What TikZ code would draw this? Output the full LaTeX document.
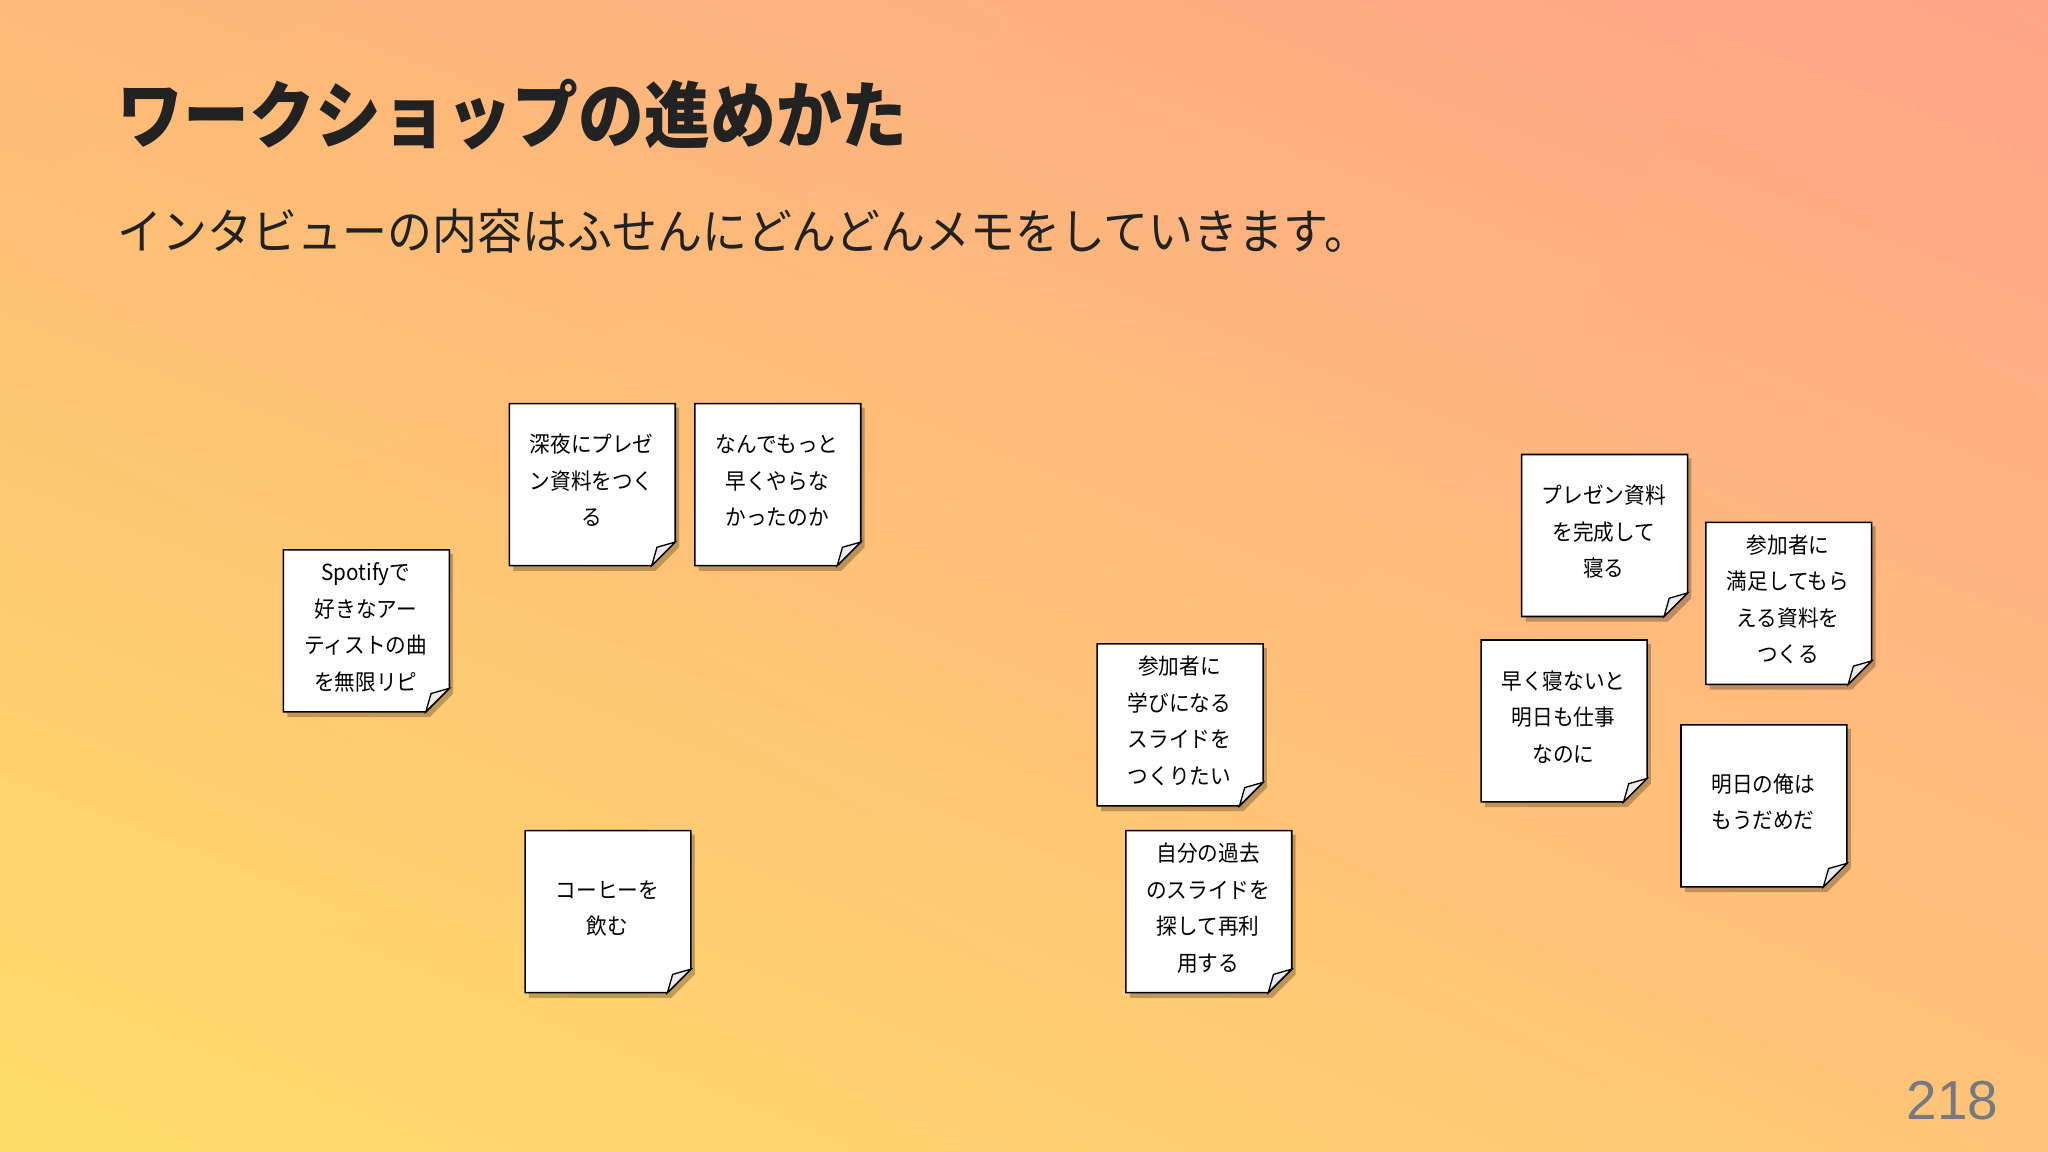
\documentclass[tikz,border=0pt]{standalone}
\usepackage{fontspec}
\usetikzlibrary{shadings}
\setmainfont{Noto Sans CJK JP}
\newfontfamily\boldjp{Noto Sans CJK JP Black}
\newfontfamily\numfont{Liberation Sans}
\definecolor{bgul}{RGB}{252,186,120}
\definecolor{bgur}{RGB}{255,164,136}
\definecolor{bgll}{RGB}{255,221,104}
\definecolor{bglr}{RGB}{255,196,120}
\definecolor{ink}{RGB}{34,34,34}
\definecolor{pggray}{RGB}{120,120,128}
\definecolor{foldgray}{RGB}{235,235,235}
\begin{document}
\begin{tikzpicture}[x=1pt,y=-1pt,
  notetext/.style={align=center,font=\fontsize{17}{28}\selectfont,text=black,inner sep=0pt}]
\useasboundingbox (0,0) rectangle (1568,882);
\shade[upper left=bgul,upper right=bgur,lower left=bgll,lower right=bglr] (0,0) rectangle (1568,882);
\node[anchor=west,inner sep=0pt,font=\boldjp\fontsize{56}{60}\selectfont,text=ink] (title) at (90,88) {\scalebox{0.9}[1]{ワークショップの進めかた}};
\node[anchor=west,inner sep=0pt,font=\fontsize{37}{40}\selectfont,text=ink] (sub) at (90,177) {\scalebox{0.93}[1]{インタビューの内容はふせんにどんどんメモをしていきます。}};
\node[anchor=east,inner sep=0pt,font=\numfont\fontsize{42}{44}\selectfont,text=pggray] (pg) at (1530,843) {218};
\newcommand{\stick}[4]{%
  \begin{scope}[shift={(#1,#2)}]
  \fill[black,opacity=0.25] (3,3) -- (130,3) -- (130,110) -- (112,128) -- (3,128) -- cycle;
  \filldraw[fill=white,draw=black,line width=1.2pt] (0,0) -- (127,0) -- (127,106) -- (109,124) -- (0,124) -- cycle;
  \filldraw[fill=foldgray,draw=black,line width=1pt] (127,106) -- (113,110) -- (109,124) -- cycle;
  \node[notetext] (#3) at (63,60) {\scalebox{0.93}[1]{\begin{tabular}{@{}c@{}}#4\end{tabular}}};
  \end{scope}}
\stick{390}{309}{n1}{深夜にプレゼ\\ン資料をつく\\る}
\stick{532}{309}{n2}{なんでもっと\\早くやらな\\かったのか}
\stick{217}{421}{n3}{Spotifyで\\好きなアー\\ティストの曲\\を無限リピ}
\stick{402}{636}{n4}{コーヒーを\\飲む}
\stick{840}{493}{n5}{参加者に\\学びになる\\スライドを\\つくりたい}
\stick{862}{636}{n6}{自分の過去\\のスライドを\\探して再利\\用する}
\stick{1165}{348}{n7}{プレゼン資料\\を完成して\\寝る}
\stick{1306}{400}{n8}{参加者に\\満足してもら\\える資料を\\つくる}
\stick{1134}{490}{n9}{早く寝ないと\\明日も仕事\\なのに}
\stick{1287}{555}{n10}{明日の俺は\\もうだめだ}
\end{tikzpicture}
\end{document}
